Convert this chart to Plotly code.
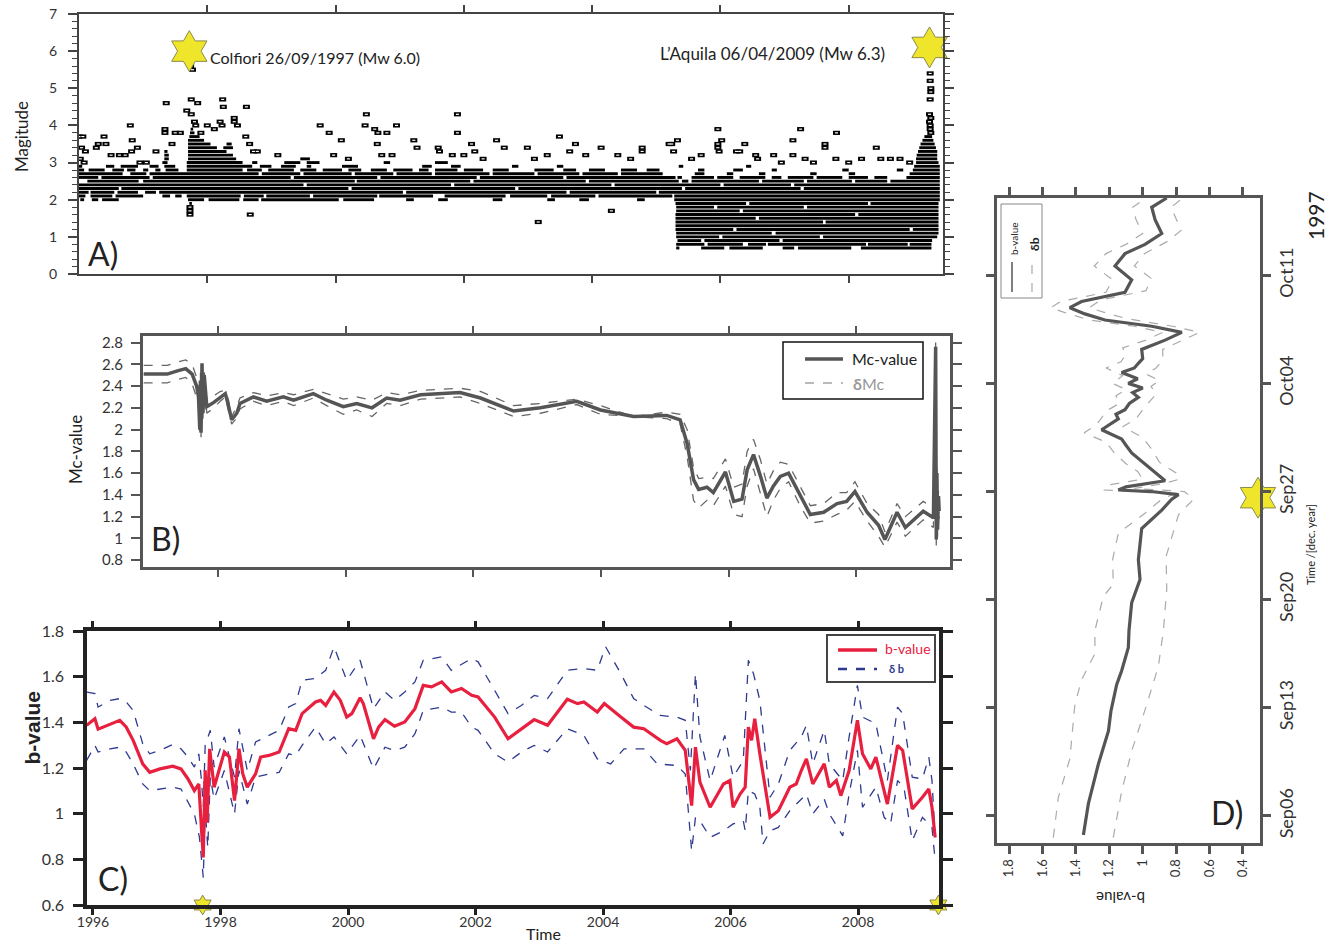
import plotly.graph_objects as go

# ============ DATA ============
# Panel A: catalogue magnitudes. Dense rows (one per 0.1 magnitude bin) as time spans
A_BAND_MAG = [0.7, 0.8, 0.9, 1.0, 1.1, 1.2, 1.3, 1.4, 1.5, 1.6, 1.7, 1.8, 1.9, 2.0, 2.1, 2.2, 2.3, 2.4,
              2.5, 2.6, 2.7, 2.8, 2.9, 3.0, 3.1, 3.2, 3.3, 3.4, 3.5, 3.6, 3.7, 3.8, 3.9]
A_BAND_SPANS = [
    [(2005.31, 2005.36), (2005.70, 2006.06), (2006.14, 2006.66), (2006.97, 2007.15), (2007.21, 2008.04), (2008.19, 2009.29)],
    [(2005.31, 2005.75), (2005.80, 2006.35), (2006.43, 2006.71), (2006.74, 2008.27), (2008.30, 2008.92), (2008.95, 2009.29)],
    [(2005.33, 2005.70), (2005.75, 2006.92), (2006.97, 2009.30)],
    [(2005.31, 2005.98), (2006.03, 2007.55), (2007.60, 2009.38)],
    [(2005.31, 2006.80), (2006.86, 2009.40)],
    [(2005.30, 2006.20), (2006.25, 2008.95), (2009.00, 2009.40)],
    [(2005.30, 2009.40)],
    [(2005.30, 2007.60), (2007.64, 2009.40)],
    [(2005.30, 2006.55), (2006.60, 2009.40)],
    [(2005.30, 2008.10), (2008.15, 2009.40)],
    [(2005.31, 2006.30), (2006.35, 2009.40)],
    [(2005.31, 2005.90), (2005.95, 2007.30), (2007.35, 2009.40)],
    [(1997.72, 1997.76), (2005.30, 2006.40), (2006.45, 2008.30), (2008.34, 2009.40)],
    [(1996.02, 1996.08), (1996.20, 1996.30), (1996.36, 1996.62), (1997.70, 1997.95), (1998.02, 1998.50), (1998.56, 1998.80),
     (1998.84, 2000.05), (2000.12, 2000.60), (2001.10, 2001.22), (2001.60, 2001.75), (2002.45, 2002.60), (2003.30, 2003.42),
     (2003.80, 2003.95), (2004.70, 2004.82), (2005.28, 2009.42)],
    [(1996.00, 1996.10), (1996.18, 1996.52), (1996.57, 1997.00), (1997.30, 1997.42), (1997.50, 1997.60), (1997.68, 1998.52),
     (1998.57, 1998.88), (1998.92, 1999.60), (1999.65, 2000.65), (2000.68, 2001.52), (2001.70, 2002.65), (2002.72, 2003.30),
     (2003.36, 2004.05), (2004.10, 2005.25), (2005.28, 2009.42)],
    [(1996.00, 1996.15), (1996.18, 1996.55), (1996.60, 1996.92), (1997.03, 1997.20), (1997.25, 2001.05), (2001.10, 2003.60),
     (2003.65, 2005.00), (2005.04, 2009.42)],
    [(1996.00, 1996.62), (1996.66, 2000.20), (2000.25, 2002.80), (2002.85, 2005.40), (2005.45, 2007.25), (2007.30, 2009.42)],
    [(1996.00, 1999.50), (1999.55, 2001.80), (2001.85, 2004.30), (2004.35, 2006.00), (2006.05, 2007.10), (2007.15, 2009.42)],
    [(1996.13, 1996.93), (1997.00, 2000.30), (2000.33, 2002.10), (2002.15, 2003.90), (2003.95, 2005.35), (2005.40, 2005.50),
     (2005.55, 2006.60), (2006.65, 2007.30), (2007.35, 2008.05), (2008.10, 2008.60), (2008.65, 2009.42)],
    [(1996.00, 1996.30), (1996.35, 1997.10), (1997.15, 1999.30), (1999.35, 2000.65), (2000.70, 2002.20), (2002.25, 2003.55),
     (2003.60, 2005.30), (2005.33, 2005.40), (2005.55, 2005.90), (2005.95, 2006.20), (2006.30, 2006.70), (2006.80, 2006.95),
     (2007.05, 2007.45), (2007.50, 2007.90), (2008.00, 2008.30), (2008.40, 2008.60), (2008.90, 2009.42)],
    [(1996.00, 1996.68), (1996.80, 1997.05), (1997.10, 1998.80), (1998.85, 1999.45), (1999.50, 2000.25), (2000.30, 2000.90),
     (2000.95, 2001.50), (2001.55, 2002.40), (2002.45, 2003.10), (2003.15, 2003.80), (2003.85, 2004.40), (2004.45, 2005.10),
     (2005.60, 2005.75), (2006.10, 2006.20), (2006.60, 2006.70), (2007.40, 2007.50), (2008.00, 2008.10), (2008.95, 2009.42)],
    [(1996.00, 1996.08), (1996.15, 1996.40), (1996.52, 1996.70), (1996.75, 1996.88), (1997.00, 1997.08), (1997.19, 1997.27),
     (1997.35, 1997.55), (1997.68, 1998.55), (1998.62, 1998.85), (1998.95, 1999.35), (1999.45, 1999.70), (1999.80, 2000.10),
     (2000.20, 2000.40), (2000.55, 2000.80), (2000.90, 2001.20), (2001.30, 2001.45), (2001.55, 2001.90), (2002.00, 2002.30),
     (2002.45, 2002.70), (2003.10, 2003.40), (2003.55, 2003.75), (2003.95, 2004.20), (2004.45, 2004.70), (2004.85, 2005.05),
     (2005.65, 2005.75), (2006.20, 2006.35), (2006.80, 2006.88), (2007.90, 2008.00), (2008.75, 2008.85), (2009.00, 2009.42)],
    [(1996.00, 1996.05), (1996.42, 1996.55), (1996.65, 1996.92), (1997.10, 1997.24), (1997.33, 1997.50), (1997.68, 1998.70),
     (1998.82, 1999.00), (1999.15, 1999.38), (1999.55, 1999.62), (2000.10, 2000.35), (2001.35, 2001.50), (2001.80, 2001.95),
     (2002.75, 2002.85), (2003.45, 2003.55), (2005.35, 2005.42), (2006.40, 2006.48), (2009.02, 2009.42)],
    [(1997.30, 1997.38), (1997.68, 1998.55), (1998.70, 1998.78), (1999.20, 1999.45), (1999.55, 1999.75), (2000.75, 2000.85),
     (2001.55, 2001.75), (2009.05, 2009.40)],
    [(1997.33, 1997.40), (1997.70, 1998.45), (1999.45, 1999.60), (2009.05, 2009.38)],
    [(1997.33, 1997.40), (1997.70, 1998.40), (2009.06, 2009.38)],
    [(1997.33, 1997.38), (1997.70, 1998.30), (2009.08, 2009.38)],
    [(1997.70, 1998.15), (1998.25, 1998.40), (2009.10, 2009.36)],
    [(1997.70, 1998.05), (1998.30, 1998.38), (2009.12, 2009.34)],
    [(1997.70, 1997.95), (2009.15, 2009.32)],
    [(1997.72, 1997.88), (2009.18, 2009.30)],
    [(1997.73, 1997.80)],
    [(1997.74, 1997.78)],
]
# isolated events (time, magnitude)
A_EVT_T = [1996.00, 1996.06, 1996.04, 1996.10, 1996.02, 1996.08, 1996.27, 1996.30, 1996.39, 1996.42, 1996.50, 1996.63,
           1996.72, 1996.80, 1996.83, 1996.82, 1996.91, 1996.95, 1997.05, 1997.20, 1997.36, 1997.34, 1997.34, 1997.50,
           1997.58, 1997.45, 1997.74, 1997.77, 1997.68, 1997.75, 1997.85, 1997.75, 1997.80, 1997.82, 1997.90, 1998.00,
           1998.11, 1998.20, 1998.23, 1998.24, 1998.25, 1998.42, 1998.42, 1998.47, 1998.60, 1998.61, 1998.66, 1998.72,
           1998.78, 1999.10, 1999.76, 1999.90, 2000.09, 1999.97, 2000.20, 2000.48, 2000.46, 2000.61, 2000.66, 2000.80,
           2000.95, 2000.65, 2000.72, 2000.88, 2001.22, 2001.27, 2001.60, 2001.62, 2001.82, 2001.90, 2001.90, 2002.00,
           2002.12, 2002.17, 2002.30, 2002.51, 2002.63, 2002.99, 2003.10, 2003.30, 2003.49, 2003.74, 2003.65, 2003.90,
           2004.14, 2004.40, 2004.60, 2004.78, 2004.78, 2005.24, 2005.27, 2005.33, 2005.20, 2005.55, 2005.70, 2005.96,
           2006.02, 2005.96, 2005.96, 2005.98, 2006.25, 2006.30, 2006.38, 2006.55, 2006.58, 2006.83, 2006.95, 2007.13,
           2007.13, 2007.25, 2007.32, 2007.45, 2007.63, 2007.63, 2007.81, 2007.80, 2008.00, 2008.20, 2008.43, 2008.50,
           2008.65, 2008.80, 2008.95, 2009.27, 2009.27, 2009.28, 2009.28, 2009.27, 2009.26, 2009.28, 2009.26, 2009.27,
           2009.27, 2009.28, 1997.73, 1997.73, 1997.73, 1998.67, 2003.16, 2004.30]
A_EVT_M = [3.7, 3.7, 3.4, 3.3, 3.1, 3.0, 3.4, 3.5, 3.7, 3.5, 3.2, 3.2,
           3.2, 4.0, 3.6, 3.3, 3.4, 3.0, 3.0, 3.3, 4.6, 3.9, 3.8, 3.8,
           3.8, 3.5, 5.6, 5.5, 4.4, 4.7, 4.6, 4.3, 4.1, 4.0, 3.8, 4.0,
           3.9, 4.1, 4.0, 4.7, 4.5, 4.2, 4.1, 4.0, 3.7, 4.5, 3.5, 3.3,
           3.3, 3.2, 4.0, 3.8, 3.6, 3.2, 3.1, 4.3, 4.0, 3.9, 3.8, 3.8,
           4.0, 3.5, 3.2, 3.2, 3.6, 3.4, 3.4, 3.3, 3.2, 4.3, 3.8, 3.2,
           3.5, 3.3, 3.1, 3.6, 3.4, 3.4, 3.1, 3.2, 3.7, 3.5, 3.3, 3.2,
           3.4, 3.2, 3.1, 3.4, 3.3, 3.5, 3.3, 3.6, 3.5, 3.1, 3.2, 3.9,
           3.6, 3.5, 3.4, 3.3, 3.3, 3.3, 3.5, 3.2, 3.1, 3.2, 3.0, 3.6,
           3.2, 3.9, 3.1, 3.0, 3.5, 3.4, 3.8, 3.1, 3.0, 3.1, 3.4, 3.1,
           3.1, 3.1, 3.0, 5.4, 5.2, 5.0, 4.9, 4.7, 4.3, 4.2, 4.1, 4.0,
           3.9, 3.8, 1.8, 1.7, 1.6, 1.6, 1.4, 1.7]
A_MAIN_T = [1997.72, 2009.26]
A_MAIN_M = [6.0, 6.1]
A_XTICKS = [1998, 2000, 2002, 2004, 2006, 2008]

# Panel B: completeness magnitude
B_T = [1996.83, 1997.04, 1997.20, 1997.36, 1997.49, 1997.59, 1997.66, 1997.69, 1997.71, 1997.72, 1997.73, 1997.745,
       1997.76, 1997.78, 1997.82, 1997.93, 1998.03, 1998.11, 1998.16, 1998.21, 1998.25, 1998.29, 1998.34, 1998.55,
       1998.76, 1999.02, 1999.18, 1999.49, 1999.70, 1999.96, 2000.17, 2000.41, 2000.64, 2000.85, 2001.17, 2001.79,
       2002.11, 2002.63, 2003.05, 2003.62, 2003.99, 2004.51, 2005.03, 2005.24, 2005.35, 2005.45, 2005.53, 2005.66,
       2005.76, 2005.95, 2006.08, 2006.21, 2006.29, 2006.39, 2006.50, 2006.60, 2006.70, 2006.81, 2006.94, 2007.12,
       2007.28, 2007.49, 2007.70, 2007.85, 2007.98, 2008.17, 2008.35, 2008.45, 2008.64, 2008.77, 2009.05, 2009.21,
       2009.245, 2009.255, 2009.265, 2009.275, 2009.29, 2009.30]
B_MC = [2.51, 2.51, 2.51, 2.54, 2.56, 2.51, 2.40, 2.30, 2.0, 2.45, 1.97, 2.61, 2.15, 2.50, 2.21, 2.25, 2.30, 2.33,
        2.22, 2.09, 2.12, 2.15, 2.24, 2.30, 2.26, 2.30, 2.27, 2.33, 2.27, 2.21, 2.24, 2.20, 2.29, 2.27, 2.32, 2.34,
        2.29, 2.17, 2.20, 2.26, 2.18, 2.12, 2.13, 2.09, 1.87, 1.54, 1.45, 1.47, 1.42, 1.61, 1.34, 1.36, 1.63, 1.77,
        1.57, 1.37, 1.48, 1.57, 1.60, 1.39, 1.22, 1.24, 1.32, 1.34, 1.43, 1.24, 1.12, 0.99, 1.24, 1.10, 1.25, 1.19,
        2.76, 0.99, 1.60, 1.08, 1.39, 1.25]
B_UP = [2.59, 2.59, 2.59, 2.62, 2.64, 2.60, 2.48, 2.36, 2.05, 2.52, 2.02, 2.62, 2.22, 2.53, 2.28, 2.31, 2.35, 2.36,
        2.27, 2.12, 2.16, 2.21, 2.29, 2.34, 2.31, 2.34, 2.32, 2.37, 2.33, 2.28, 2.30, 2.27, 2.34, 2.32, 2.36, 2.38,
        2.35, 2.22, 2.24, 2.28, 2.22, 2.12, 2.16, 2.14, 2.00, 1.65, 1.55, 1.56, 1.55, 1.73, 1.47, 1.50, 1.80, 1.91,
        1.72, 1.50, 1.62, 1.70, 1.68, 1.48, 1.30, 1.32, 1.42, 1.42, 1.52, 1.32, 1.22, 1.06, 1.32, 1.20, 1.34, 1.28,
        2.80, 1.05, 1.65, 1.12, 1.45, 1.33]
B_LO = [2.43, 2.43, 2.43, 2.46, 2.48, 2.42, 2.30, 2.24, 1.95, 2.40, 1.93, 2.58, 2.10, 2.46, 2.15, 2.20, 2.26, 2.30,
        2.17, 2.05, 2.08, 2.10, 2.19, 2.26, 2.22, 2.26, 2.22, 2.29, 2.22, 2.14, 2.18, 2.12, 2.24, 2.22, 2.28, 2.30,
        2.24, 2.12, 2.15, 2.23, 2.14, 2.12, 2.10, 2.05, 1.75, 1.35, 1.28, 1.35, 1.30, 1.48, 1.22, 1.20, 1.48, 1.64,
        1.42, 1.20, 1.35, 1.46, 1.52, 1.30, 1.14, 1.16, 1.22, 1.26, 1.34, 1.16, 1.02, 0.92, 1.15, 1.02, 1.17, 1.10,
        2.70, 0.93, 1.55, 1.02, 1.32, 1.18]
B_YTICKS = [0.8, 1.0, 1.2, 1.4, 1.6, 1.8, 2.0, 2.2, 2.4, 2.6, 2.8]
B_YLABELS = ["0.8", "1", "1.2", "1.4", "1.6", "1.8", "2", "2.2", "2.4", "2.6", "2.8"]

# Panel C: b-value
C_T = [1995.90, 1996.03, 1996.08, 1996.27, 1996.42, 1996.52, 1996.63, 1996.78, 1996.89, 1997.05,
       1997.25, 1997.38, 1997.49, 1997.59, 1997.66, 1997.70, 1997.73, 1997.76, 1997.79, 1997.83,
       1997.90, 1998.06, 1998.14, 1998.22, 1998.29, 1998.35, 1998.42, 1998.55, 1998.63, 1998.76,
       1998.92, 1999.07, 1999.18, 1999.28, 1999.49, 1999.57, 1999.65, 1999.78, 1999.88, 1999.98,
       2000.06, 2000.19, 2000.24, 2000.40, 2000.48, 2000.58, 2000.73, 2000.89, 2001.05, 2001.18,
       2001.31, 2001.47, 2001.62, 2001.78, 2001.94, 2002.04, 2002.30, 2002.51, 2002.72, 2002.92,
       2003.13, 2003.44, 2003.60, 2003.70, 2003.91, 2004.02, 2004.28, 2004.48, 2004.64, 2004.90,
       2005.00, 2005.16, 2005.29, 2005.39, 2005.45, 2005.52, 2005.68, 2005.89, 2005.99, 2006.04,
       2006.15, 2006.23, 2006.28, 2006.33, 2006.38, 2006.46, 2006.62, 2006.75, 2006.93, 2007.03,
       2007.11, 2007.19, 2007.29, 2007.47, 2007.55, 2007.66, 2007.73, 2007.86, 2007.99, 2008.07,
       2008.20, 2008.28, 2008.46, 2008.62, 2008.70, 2008.85, 2009.01, 2009.11, 2009.16, 2009.21]
C_B = [1.387, 1.416, 1.370, 1.391, 1.409, 1.380, 1.321, 1.218, 1.181, 1.196,
       1.208, 1.196, 1.152, 1.101, 1.130, 0.940, 0.808, 1.190, 0.960, 1.284,
       1.116, 1.270, 1.248, 1.057, 1.284, 1.174, 1.116, 1.174, 1.248, 1.255,
       1.270, 1.372, 1.365, 1.438, 1.489, 1.496, 1.474, 1.533, 1.496, 1.423,
       1.438, 1.508, 1.482, 1.328, 1.379, 1.412, 1.383, 1.402, 1.460, 1.562,
       1.555, 1.577, 1.533, 1.548, 1.518, 1.511, 1.423, 1.328, 1.372, 1.412,
       1.387, 1.501, 1.482, 1.489, 1.445, 1.482, 1.423, 1.379, 1.372, 1.321,
       1.306, 1.328, 1.277, 1.035, 1.291, 1.138, 1.028, 1.130, 1.145, 1.028,
       1.086, 1.116, 1.379, 1.321, 1.416, 1.262, 0.984, 1.013, 1.116, 1.130,
       1.189, 1.240, 1.130, 1.218, 1.116, 1.145, 1.079, 1.189, 1.409, 1.262,
       1.196, 1.248, 1.042, 1.299, 1.277, 1.021, 1.072, 1.108, 1.028, 0.896]
C_UT = [1995.90, 1996.03, 1996.08, 1996.27, 1996.42, 1996.52, 1996.63, 1996.78, 1996.89, 1997.05,
        1997.25, 1997.38, 1997.49, 1997.59, 1997.66, 1997.70, 1997.73, 1997.76, 1997.84, 1997.90,
        1998.06, 1998.22, 1998.29, 1998.42, 1998.55, 1998.76, 1998.92, 1999.07, 1999.18, 1999.28,
        1999.49, 1999.65, 1999.78, 1999.98, 2000.19, 2000.40, 2000.58, 2000.73, 2000.89, 2001.05,
        2001.18, 2001.47, 2001.62, 2001.94, 2002.04, 2002.30, 2002.51, 2002.72, 2002.92, 2003.13,
        2003.44, 2003.70, 2003.91, 2004.04, 2004.28, 2004.48, 2004.64, 2004.90, 2005.16, 2005.29,
        2005.37, 2005.45, 2005.52, 2005.68, 2005.91, 2006.04, 2006.20, 2006.28, 2006.36, 2006.46,
        2006.62, 2006.75, 2006.93, 2007.11, 2007.19, 2007.29, 2007.47, 2007.55, 2007.76, 2007.86,
        2007.99, 2008.07, 2008.28, 2008.46, 2008.62, 2008.70, 2008.85, 2009.01, 2009.11, 2009.16,
        2009.21]
C_UB = [1.533, 1.526, 1.467, 1.496, 1.504, 1.490, 1.452, 1.306, 1.262, 1.277,
        1.303, 1.284, 1.248, 1.204, 1.262, 1.150, 1.030, 1.300, 1.365, 1.204,
        1.336, 1.160, 1.372, 1.189, 1.314, 1.343, 1.365, 1.467, 1.482, 1.584,
        1.592, 1.628, 1.731, 1.584, 1.672, 1.460, 1.533, 1.496, 1.533, 1.577,
        1.672, 1.687, 1.628, 1.680, 1.665, 1.540, 1.438, 1.474, 1.518, 1.504,
        1.628, 1.636, 1.628, 1.731, 1.613, 1.504, 1.474, 1.430, 1.423, 1.409,
        1.189, 1.613, 1.336, 1.145, 1.343, 1.160, 1.233, 1.672, 1.613, 1.496,
        1.072, 1.130, 1.277, 1.336, 1.387, 1.218, 1.365, 1.218, 1.145, 1.336,
        1.562, 1.423, 1.394, 1.145, 1.467, 1.438, 1.160, 1.152, 1.248, 1.145,
        0.896]
C_LT = [1995.90, 1996.03, 1996.08, 1996.27, 1996.42, 1996.52, 1996.63, 1996.78, 1996.89, 1997.05,
        1997.25, 1997.38, 1997.49, 1997.59, 1997.67, 1997.73, 1997.76, 1997.80, 1997.84, 1997.90,
        1998.06, 1998.22, 1998.29, 1998.42, 1998.55, 1998.76, 1998.92, 1999.07, 1999.18, 1999.28,
        1999.49, 1999.65, 1999.78, 1999.98, 2000.19, 2000.40, 2000.58, 2000.73, 2000.89, 2001.05,
        2001.18, 2001.47, 2001.62, 2001.78, 2001.94, 2002.04, 2002.30, 2002.51, 2002.72, 2002.92,
        2003.13, 2003.44, 2003.70, 2003.91, 2004.12, 2004.33, 2004.64, 2004.85, 2005.16, 2005.29,
        2005.39, 2005.45, 2005.52, 2005.68, 2005.89, 2006.04, 2006.20, 2006.23, 2006.28, 2006.38,
        2006.46, 2006.51, 2006.62, 2006.75, 2006.93, 2007.19, 2007.29, 2007.47, 2007.55, 2007.76,
        2007.86, 2007.99, 2008.07, 2008.28, 2008.41, 2008.51, 2008.62, 2008.72, 2008.85, 2009.01,
        2009.11, 2009.16, 2009.21]
C_LB = [1.233, 1.299, 1.270, 1.284, 1.291, 1.270, 1.218, 1.130, 1.101, 1.108,
        1.116, 1.108, 1.050, 0.999, 0.896, 0.720, 1.027, 0.852, 1.160, 1.064,
        1.189, 0.999, 1.189, 1.042, 1.160, 1.174, 1.181, 1.262, 1.255, 1.299,
        1.379, 1.306, 1.336, 1.262, 1.343, 1.196, 1.291, 1.277, 1.291, 1.350,
        1.452, 1.467, 1.445, 1.445, 1.379, 1.365, 1.262, 1.226, 1.270, 1.299,
        1.270, 1.372, 1.343, 1.240, 1.218, 1.284, 1.284, 1.218, 1.211, 1.174,
        0.837, 0.984, 0.969, 0.896, 0.925, 0.955, 0.969, 0.925, 1.101, 1.086,
        1.028, 0.867, 0.925, 0.940, 1.013, 1.086, 0.999, 1.064, 0.999, 0.903,
        1.086, 1.277, 1.028, 1.116, 0.984, 0.955, 1.145, 1.116, 0.881, 0.984,
        0.955, 0.940, 0.793]
C_STAR_T = [1997.72, 2009.26]
C_STAR_B = [0.6, 0.6]
C_XTICKS = [1996, 1998, 2000, 2002, 2004, 2006, 2008]
C_YTICKS = [0.6, 0.8, 1.0, 1.2, 1.4, 1.6, 1.8]
C_YLABELS = ["0.6", "0.8", "1", "1.2", "1.4", "1.6", "1.8"]

# Panel D: b-value around Colfiori 1997 (time in days of September 1997)
D_DAY = [4.77, 6.8, 9.37, 11.5, 12.8, 14.5, 15.4, 16.9, 18.0, 19.8, 21.3, 22.6, 24.6, 25.8, 26.5, 26.8, 27.0, 27.1,
         27.3, 27.5, 27.7, 28.0, 28.4, 28.9, 29.5, 30.0, 30.4, 31.0, 31.3, 31.7, 32.0, 32.3, 32.7, 33.1, 33.4, 33.7,
         34.0, 34.3, 34.7, 35.0, 35.3, 35.6, 36.2, 36.5, 36.8, 37.3, 37.7, 38.1, 38.5, 38.9, 39.3, 39.9, 40.7, 41.6,
         42.4, 43.0, 43.7, 44.6, 45.4, 46.0]
D_B = [1.355, 1.325, 1.265, 1.205, 1.190, 1.156, 1.126, 1.086, 1.082, 1.066, 1.016, 1.026, 1.006, 0.886, 0.826,
       0.786, 0.950, 1.146, 1.100, 0.980, 0.866, 0.900, 0.946, 1.000, 1.066, 1.100, 1.126, 1.246, 1.200, 1.146,
       1.160, 1.106, 1.080, 1.026, 1.060, 1.000, 1.086, 1.030, 1.126, 1.050, 1.026, 1.000, 1.006, 0.930, 0.866,
       0.766, 0.946, 1.226, 1.346, 1.436, 1.366, 1.106, 1.066, 1.166, 1.106, 0.986, 0.886, 0.926, 0.946, 0.856]
D_UDAY = [4.6, 7.2, 9.7, 13.2, 14.8, 16.5, 18.0, 20.2, 21.0, 22.6, 24.3, 25.6, 26.5, 26.9, 27.1, 27.4, 27.8, 28.3,
          28.8, 29.5, 30.2, 30.8, 31.3, 31.7, 32.2, 32.7, 33.2, 33.6, 34.0, 34.5, 35.0, 35.4, 35.9, 36.3, 36.8, 37.3,
          37.7, 38.1, 38.6, 38.9, 39.3, 39.9, 40.7, 41.6, 42.4, 43.0, 43.7, 44.6, 45.4, 46.0]
D_UB = [1.535, 1.505, 1.436, 1.406, 1.366, 1.286, 1.286, 1.236, 1.176, 1.180, 1.146, 0.986, 0.886, 0.800, 1.230,
        1.220, 1.000, 1.030, 1.100, 1.170, 1.220, 1.350, 1.280, 1.250, 1.220, 1.140, 1.160, 1.100, 1.180, 1.120,
        1.220, 1.130, 1.100, 1.120, 0.980, 0.880, 1.050, 1.320, 1.470, 1.550, 1.490, 1.220, 1.180, 1.290, 1.220,
        1.100, 1.000, 1.040, 1.060, 0.980]
D_LDAY = [4.6, 7.6, 10.2, 13.2, 15.7, 18.0, 20.7, 22.8, 25.5, 26.5, 27.0, 27.2, 27.5, 27.8, 28.2, 28.9, 29.8, 30.5,
          31.2, 31.7, 32.3, 32.8, 33.3, 33.8, 34.2, 34.6, 35.0, 35.5, 36.2, 36.6, 37.0, 37.3, 37.7, 38.2, 38.6, 38.9,
          39.4, 40.0, 40.8, 41.6, 42.4, 43.2, 43.9, 44.7, 45.4, 46.0]
D_LB = [1.176, 1.126, 1.066, 0.976, 0.906, 0.876, 0.856, 0.860, 0.786, 0.696, 0.750, 1.050, 0.880, 0.780, 0.800,
        0.900, 0.950, 1.000, 1.120, 1.040, 1.000, 0.960, 0.920, 0.950, 0.900, 0.980, 0.920, 0.880, 0.880, 0.800,
        0.720, 0.660, 0.820, 1.100, 1.230, 1.320, 1.250, 0.980, 0.950, 1.050, 0.990, 0.850, 0.770, 0.800, 0.830,
        0.760]
D_STAR_DAY = [26.6]
D_STAR_B = [0.31]
D_XTICKS = [1.8, 1.6, 1.4, 1.2, 1.0, 0.8, 0.6, 0.4]
D_XLABELS = ["1.8", "1.6", "1.4", "1.2", "1", "0.8", "0.6", "0.4"]
D_YTICKS = [6, 13, 20, 27, 34, 41]
D_YLABELS = ["Sep06", "Sep13", "Sep20", "Sep27", "Oct04", "Oct11"]

# ============ FIGURE ============
W, H = 1334, 942
def X(p): return p / W
def Y(p): return 1 - p / H

FONT = "Lato, 'Open Sans', sans-serif"
STAR_C = "#efe62b"
STAR_L = "#8c8a4a"

fig = go.Figure()

# ---- Panel A ----
bx, by = [], []
for mag, spans in zip(A_BAND_MAG, A_BAND_SPANS):
    for t0, t1 in spans:
        bx += [t0, t1, None]
        by += [mag, mag, None]
fig.add_trace(go.Scatter(x=bx, y=by, mode="lines", line=dict(color="black", width=2.9),
                         xaxis="x", yaxis="y", hoverinfo="skip"))
fig.add_trace(go.Scatter(x=A_EVT_T, y=A_EVT_M, mode="markers", xaxis="x", yaxis="y",
                         marker=dict(symbol="line-ew", size=5, color="black", line=dict(color="black", width=4.2))))
fig.add_trace(go.Scatter(x=A_EVT_T, y=A_EVT_M, mode="markers", xaxis="x", yaxis="y",
                         marker=dict(symbol="line-ew", size=2.2, color="white", line=dict(color="white", width=1.2))))
fig.add_trace(go.Scatter(x=A_MAIN_T, y=A_MAIN_M, mode="markers", xaxis="x", yaxis="y", cliponaxis=False,
                         marker=dict(symbol="hexagram", size=31, color=STAR_C, line=dict(color=STAR_L, width=1))))

# ---- Panel B ----
for arr in (B_UP, B_LO):
    fig.add_trace(go.Scatter(x=B_T, y=arr, mode="lines", xaxis="x2", yaxis="y2",
                             line=dict(color="#666", width=1.3, dash="dash")))
fig.add_trace(go.Scatter(x=B_T, y=B_MC, mode="lines", xaxis="x2", yaxis="y2",
                         line=dict(color="#555", width=3.5)))

# ---- Panel C ----
fig.add_trace(go.Scatter(x=C_UT, y=C_UB, mode="lines", xaxis="x3", yaxis="y3",
                         line=dict(color="#2e3a8f", width=1.3, dash="dash")))
fig.add_trace(go.Scatter(x=C_LT, y=C_LB, mode="lines", xaxis="x3", yaxis="y3",
                         line=dict(color="#2e3a8f", width=1.3, dash="dash")))
fig.add_trace(go.Scatter(x=C_T, y=C_B, mode="lines", xaxis="x3", yaxis="y3",
                         line=dict(color="#e8203f", width=3.2)))
fig.add_trace(go.Scatter(x=C_STAR_T, y=C_STAR_B, mode="markers", xaxis="x3", yaxis="y3", cliponaxis=False,
                         marker=dict(symbol="hexagram", size=15, color=STAR_C, line=dict(color=STAR_L, width=1))))

# ---- Panel D ----
fig.add_trace(go.Scatter(x=D_UB, y=D_UDAY, mode="lines", xaxis="x4", yaxis="y4",
                         line=dict(color="#aaa", width=1.2, dash="dash")))
fig.add_trace(go.Scatter(x=D_LB, y=D_LDAY, mode="lines", xaxis="x4", yaxis="y4",
                         line=dict(color="#aaa", width=1.2, dash="dash")))
fig.add_trace(go.Scatter(x=D_B, y=D_DAY, mode="lines", xaxis="x4", yaxis="y4",
                         line=dict(color="#555", width=3.2)))
fig.add_trace(go.Scatter(x=D_STAR_B, y=D_STAR_DAY, mode="markers", xaxis="x4", yaxis="y4", cliponaxis=False,
                         marker=dict(symbol="hexagram", size=31, color=STAR_C, line=dict(color=STAR_L, width=1))))

common = dict(showgrid=False, zeroline=False, showline=True, mirror="ticks", ticks="outside", automargin=False)
tf = dict(family=FONT, size=14, color="#333")

fig.update_layout(
    width=W, height=H, margin=dict(l=0, r=0, t=0, b=0, autoexpand=False),
    paper_bgcolor="white", plot_bgcolor="white", showlegend=False,
    font=dict(family=FONT, color="#222"),
    xaxis=dict(domain=[X(79), X(943)], range=[1996.0, 2009.47], anchor="y",
               tickmode="array", tickvals=A_XTICKS, showticklabels=False,
               ticklen=7, tickwidth=2, tickcolor="#444", linecolor="#444", linewidth=2, **common),
    yaxis=dict(domain=[Y(274), Y(14)], range=[0, 7], anchor="x", tick0=0, dtick=1,
               ticklen=9, tickwidth=1.5, tickcolor="#444", linecolor="#444", linewidth=2,
               minor=dict(tickmode="linear", tick0=0, dtick=0.2, ticks="outside", ticklen=5,
                          tickcolor="#444", tickwidth=1),
               tickfont=tf, ticklabelstandoff=8, **common),
    xaxis2=dict(domain=[X(143), X(950)], range=[1996.82, 2009.47], anchor="y2",
                tickmode="array", tickvals=A_XTICKS, showticklabels=False,
                ticklen=7, tickwidth=2, tickcolor="#555", linecolor="#555", linewidth=3, **common),
    yaxis2=dict(domain=[Y(567), Y(336)], range=[0.737, 2.86], anchor="x2",
                tickmode="array", tickvals=B_YTICKS, ticktext=B_YLABELS,
                ticklen=9, tickwidth=2, tickcolor="#555", linecolor="#555", linewidth=3,
                tickfont=dict(family=FONT, size=15, color="#333"), ticklabelstandoff=5, **common),
    xaxis3=dict(domain=[X(87), X(939)], range=[1995.906, 2009.27], anchor="y3",
                tickmode="array", tickvals=C_XTICKS, ticklen=6, tickwidth=3, tickcolor="#222",
                linecolor="#222", linewidth=3.5, tickfont=tf, ticklabelstandoff=-5, **common),
    yaxis3=dict(domain=[Y(905), Y(631)], range=[0.6, 1.8], anchor="x3",
                tickmode="array", tickvals=C_YTICKS, ticktext=C_YLABELS,
                ticklen=10, tickwidth=3, tickcolor="#222", linecolor="#222", linewidth=3.5,
                tickfont=dict(family=FONT, size=16, color="#333"), ticklabelstandoff=6, **common),
    xaxis4=dict(domain=[X(997), X(1260)], range=[1.872, 0.298], anchor="y4",
                tickmode="array", tickvals=D_XTICKS, ticktext=D_XLABELS, tickangle=-90,
                ticklen=8, tickwidth=2.5, tickcolor="#555", linecolor="#555", linewidth=3,
                tickfont=dict(family=FONT, size=13, color="#333"), **common),
    yaxis4=dict(domain=[Y(843), Y(198)], range=[4.25, 46.0], anchor="x4", side="right",
                tickmode="array", tickvals=D_YTICKS, ticktext=D_YLABELS, tickangle=-90,
                ticklen=8, tickwidth=2.5, tickcolor="#555", linecolor="#555", linewidth=3,
                tickfont=dict(family=FONT, size=18, color="#333"), ticklabelstandoff=0, **common),
)

ann = []
def txt(x, y, s, size, color="#222", angle=0, xanchor="center", yanchor="middle"):
    ann.append(dict(x=X(x), y=Y(y), xref="paper", yref="paper", text=s, showarrow=False,
                    font=dict(family=FONT, size=size, color=color), textangle=angle,
                    xanchor=xanchor, yanchor=yanchor))

txt(22, 137, "Magitude", 17, angle=-90)
txt(75, 450, "Mc-value", 17, angle=-90)
ann.append(dict(x=X(18), y=Y(767), xref="paper", yref="paper", text="<b>b-value</b>", showarrow=False,
                font=dict(family="'Liberation Sans', Arial, sans-serif", size=21, color="#222"), textangle=-90))
txt(543, 933, "Time", 16)
txt(208, 58, "Colfiori 26/09/1997 (Mw 6.0)", 16, xanchor="left")
txt(658, 54, "L’Aquila 06/04/2009 (Mw 6.3)", 17, xanchor="left")
txt(103, 254, "A)", 32)
txt(165, 538, "B)", 32)
txt(113, 878, "C)", 32)
txt(1227, 812, "D)", 32)
txt(1121, 898, "b-value", 15, angle=180)
txt(1310, 545, "Time /[dec. year]", 11, angle=-90)
txt(1316, 216, "1997", 21, angle=-90)
# legend texts
txt(850, 358, "Mc-value", 16, xanchor="left")
txt(851, 383, "<b>δ</b>Mc", 16, color="#999", xanchor="left")
txt(883, 648, "b-value", 14, color="#e8203f", xanchor="left")
txt(887, 668, "<b>δ b</b>", 11, color="#2e3a8f", xanchor="left")
txt(1014, 238, "b-value", 10, angle=-90)
txt(1035, 244, "<b>δb</b>", 12, angle=-90)

shapes = [
    # legend B
    dict(type="rect", xref="paper", yref="paper", x0=X(783), x1=X(923), y0=Y(399), y1=Y(342),
         line=dict(color="#111", width=1.5), fillcolor="white", layer="below"),
    dict(type="line", xref="paper", yref="paper", x0=X(805), x1=X(843), y0=Y(359), y1=Y(359),
         line=dict(color="#555", width=3.5)),
    dict(type="line", xref="paper", yref="paper", x0=X(805), x1=X(843), y0=Y(383), y1=Y(383),
         line=dict(color="#777", width=1.2, dash="dash")),
    # legend C
    dict(type="rect", xref="paper", yref="paper", x0=X(827), x1=X(935), y0=Y(682), y1=Y(635),
         line=dict(color="#444", width=2), fillcolor="white", layer="below"),
    dict(type="line", xref="paper", yref="paper", x0=X(838), x1=X(877), y0=Y(650), y1=Y(650),
         line=dict(color="#e8203f", width=3.5)),
    dict(type="line", xref="paper", yref="paper", x0=X(838), x1=X(877), y0=Y(669), y1=Y(669),
         line=dict(color="#2e3a8f", width=2.5, dash="dash")),
    # legend D
    dict(type="rect", xref="paper", yref="paper", x0=X(1001), x1=X(1042), y0=Y(298), y1=Y(204),
         line=dict(color="#888", width=1), fillcolor="white", layer="below"),
    dict(type="line", xref="paper", yref="paper", x0=X(1012), x1=X(1012), y0=Y(292), y1=Y(262),
         line=dict(color="#555", width=1.5)),
    dict(type="line", xref="paper", yref="paper", x0=X(1032), x1=X(1032), y0=Y(292), y1=Y(262),
         line=dict(color="#aaa", width=1.2, dash="dash")),
]
fig.update_layout(annotations=ann, shapes=shapes)
fig.write_html("out.html")
